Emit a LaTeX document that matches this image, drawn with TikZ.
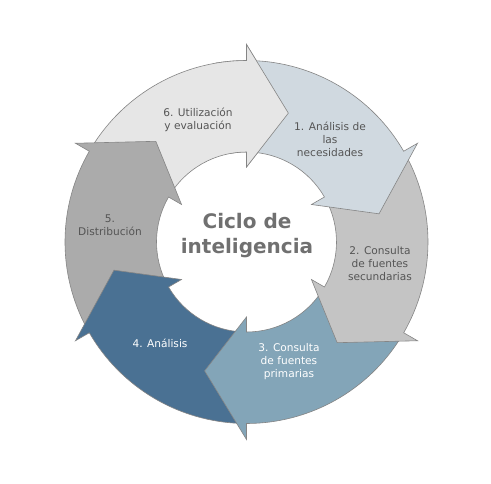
\documentclass[tikz,border=0pt]{standalone}
\usepackage{fontspec}
\setmainfont{DejaVu Sans}
\begin{document}
\begin{tikzpicture}[x=1pt,y=1pt,
  arrowshape/.style={draw=edgegray, line width=0.6pt, line join=miter},
  lbl/.style={align=center, font=\fontsize{10.6}{13}\selectfont, text=txtdark, inner sep=0pt},
  lblw/.style={lbl, text=white},
  ttl/.style={align=center, font=\fontsize{20}{25}\selectfont\bfseries, text=ttlgray, inner sep=0pt}]
\definecolor{edgegray}{HTML}{858585}
\definecolor{txtdark}{HTML}{555555}
\definecolor{ttlgray}{HTML}{707070}
\definecolor{cA}{HTML}{D0D9E0}
\definecolor{cB}{HTML}{C4C4C4}
\definecolor{cC}{HTML}{83A5B8}
\definecolor{cD}{HTML}{4A7193}
\definecolor{cE}{HTML}{ABABAB}
\definecolor{cF}{HTML}{E6E6E6}
\def\Ro{181.5}\def\ri{90}\def\rm{135.5}\def\Rb{197.5}\def\rb{75}
\newcommand{\cycarrow}[2]{%
  \path[arrowshape, fill=#2] (#1+58.5:\Ro) arc[start angle=#1+58.5, end angle=#1, radius=\Ro]
    -- (#1:\Rb) -- (#1-18:\rm) -- (#1:\rb) -- (#1:\ri)
    arc[start angle=#1, end angle=#1+58.5, radius=\ri] -- cycle;}
\useasboundingbox (-246.5,-241) rectangle (244.5,242);
\fill[white] (-246.5,-241) rectangle (244.5,242);
\cycarrow{90}{cF}
\cycarrow{150}{cE}
\cycarrow{210}{cD}
\cycarrow{270}{cC}
\cycarrow{330}{cB}
\cycarrow{30}{cA}
\begin{scope}
  \clip (0,0) -- (64:230) arc[start angle=64, end angle=100, radius=230] -- cycle;
  \cycarrow{90}{cF}
\end{scope}
\node[lbl] (n6) at (-48.5,122) {6. Utilización\\y evaluación};
\node[lbl] (n1) at (83.5,103) {1. Análisis de\\las\\necesidades};
\node[lbl] (n2) at (133.5,-22) {2. Consulta\\de fuentes\\secundarias};
\node[lblw] (n3) at (42.5,-120) {3. Consulta\\de fuentes\\primarias};
\node[lblw] (n4) at (-86.5,-101) {4. Análisis};
\node[lbl] (n5) at (-136.5,17) {5.\\Distribución};
\node[ttl] (t) at (0.5,6) {Ciclo de\\inteligencia};
\end{tikzpicture}
\end{document}
